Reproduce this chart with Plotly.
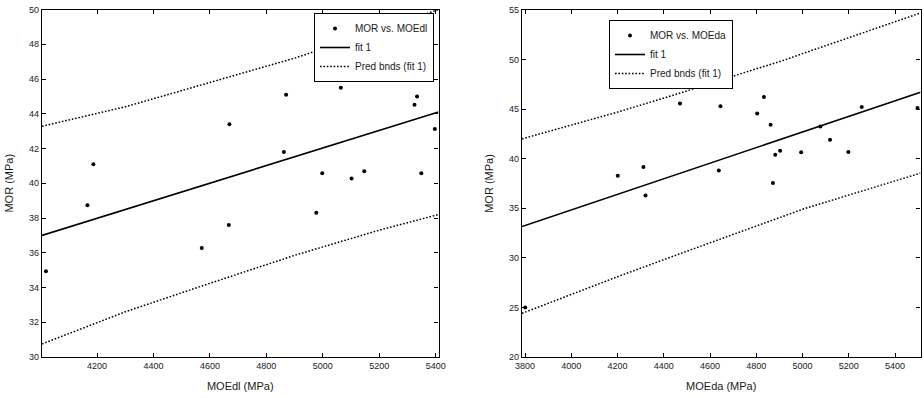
import plotly.graph_objects as go

# ---- Left panel: MOR vs MOEdl ----
moedl = [4019, 4166, 4187, 4571, 4667, 4669, 4862, 4870, 4977, 4998, 5064,
         5102, 5147, 5213, 5258, 5325, 5334, 5349, 5397]
mor_l = [34.94, 38.74, 41.1, 36.28, 37.59, 43.4, 41.8, 45.1, 38.3, 40.57, 45.5,
         40.27, 40.69, 46.1, 46.36, 44.52, 45.0, 40.57, 43.12]
fit_l_x = [4005, 5410]
fit_l_y = [37.0, 44.1]
band_l_x = [4005, 4300, 4600, 4900, 5200, 5410]
band_l_lo = [30.75, 32.6, 34.24, 35.85, 37.3, 38.2]
band_l_hi = [43.28, 44.4, 45.8, 47.2, 48.8, 50.0]

# ---- Right panel: MOR vs MOEda ----
moeda = [3801, 4201, 4312, 4321, 4470, 4638, 4645, 4804, 4833, 4862, 4872,
         4882, 4903, 4994, 5077, 5119, 5198, 5256, 5497]
mor_r = [25.0, 38.28, 39.16, 36.3, 45.56, 38.82, 45.28, 44.55, 46.23, 43.43, 37.55,
         40.4, 40.8, 40.64, 43.26, 41.92, 40.68, 45.22, 45.12]
fit_r_x = [3787, 5510]
fit_r_y = [33.16, 46.7]
band_r_x = [3787, 4200, 4468, 4600, 4928, 5000, 5510]
band_r_lo = [24.4, 28.1, 30.4, 31.5, 34.3, 34.9, 38.55]
band_r_hi = [42.0, 44.7, 46.6, 47.6, 50.0, 50.6, 54.7]

FONT = "Liberation Sans, Arial, sans-serif"
INK = "#1a1a1a"
DOT = "1.6px,1.8px"

fig = go.Figure()

def add_panel(xs, ys, fx, fy, bx, blo, bhi, name, xa, ya, leg):
    fig.add_trace(go.Scatter(x=xs, y=ys, mode="markers", name=name,
                             marker=dict(color="black", size=4),
                             xaxis=xa, yaxis=ya, legend=leg))
    fig.add_trace(go.Scatter(x=fx, y=fy, mode="lines", name="fit 1",
                             line=dict(color="black", width=1.6),
                             xaxis=xa, yaxis=ya, legend=leg))
    fig.add_trace(go.Scatter(x=bx, y=bhi, mode="lines", name="Pred bnds (fit 1)",
                             line=dict(color="black", width=1.5, dash=DOT),
                             xaxis=xa, yaxis=ya, legend=leg))
    fig.add_trace(go.Scatter(x=bx, y=blo, mode="lines", showlegend=False,
                             line=dict(color="black", width=1.5, dash=DOT),
                             xaxis=xa, yaxis=ya, legend=leg))

add_panel(moedl, mor_l, fit_l_x, fit_l_y, band_l_x, band_l_lo, band_l_hi,
          "MOR vs. MOEdl", "x", "y", "legend")
add_panel(moeda, mor_r, fit_r_x, fit_r_y, band_r_x, band_r_lo, band_r_hi,
          "MOR vs. MOEda", "x2", "y2", "legend2")

axis_common = dict(showline=True, linecolor="black", linewidth=1.2, mirror="ticks",
                   ticks="inside", ticklen=4, tickcolor="black", showgrid=False,
                   zeroline=False, automargin=False,
                   tickfont=dict(family=FONT, size=9, color=INK),
                   title_font=dict(family=FONT, size=11, color=INK))

W, H = 924, 398
fig.update_layout(
    width=W, height=H, margin=dict(l=0, r=0, t=0, b=0, autoexpand=False),
    paper_bgcolor="white", plot_bgcolor="white",
    font=dict(family=FONT, size=9, color=INK),
    xaxis=dict(domain=[42 / W, 438.5 / W], range=[4005, 5410],
               tickvals=[4200, 4400, 4600, 4800, 5000, 5200, 5400],
               title=dict(text="MOEdl (MPa)", standoff=12), anchor="y", **axis_common),
    yaxis=dict(domain=[1 - 357 / H, 1 - 9.5 / H], range=[30, 50], dtick=2,
               title=dict(text="MOR (MPa)", standoff=13), anchor="x", **axis_common),
    xaxis2=dict(domain=[522 / W, 920.5 / W], range=[3787, 5510],
                tickvals=[3800, 4000, 4200, 4400, 4600, 4800, 5000, 5200, 5400],
                title=dict(text="MOEda (MPa)", standoff=12), anchor="y2", **axis_common),
    yaxis2=dict(domain=[1 - 357 / H, 1 - 10 / H], range=[20, 55], dtick=5,
                title=dict(text="MOR (MPa)", standoff=13), anchor="x2", **axis_common),
    legend=dict(x=434 / W, y=1 - 13 / H, xanchor="right", yanchor="top",
                bgcolor="white", bordercolor="black", borderwidth=1,
                font=dict(family=FONT, size=10, color=INK), tracegroupgap=0,
                itemwidth=30),
    legend2=dict(x=609 / W, y=1 - 20 / H, xanchor="left", yanchor="top",
                 bgcolor="white", bordercolor="black", borderwidth=1,
                 font=dict(family=FONT, size=10, color=INK), tracegroupgap=0,
                 itemwidth=30),
)

fig.write_html("out.html", config={"displayModeBar": False},
               post_script="document.body.style.margin='0';")
